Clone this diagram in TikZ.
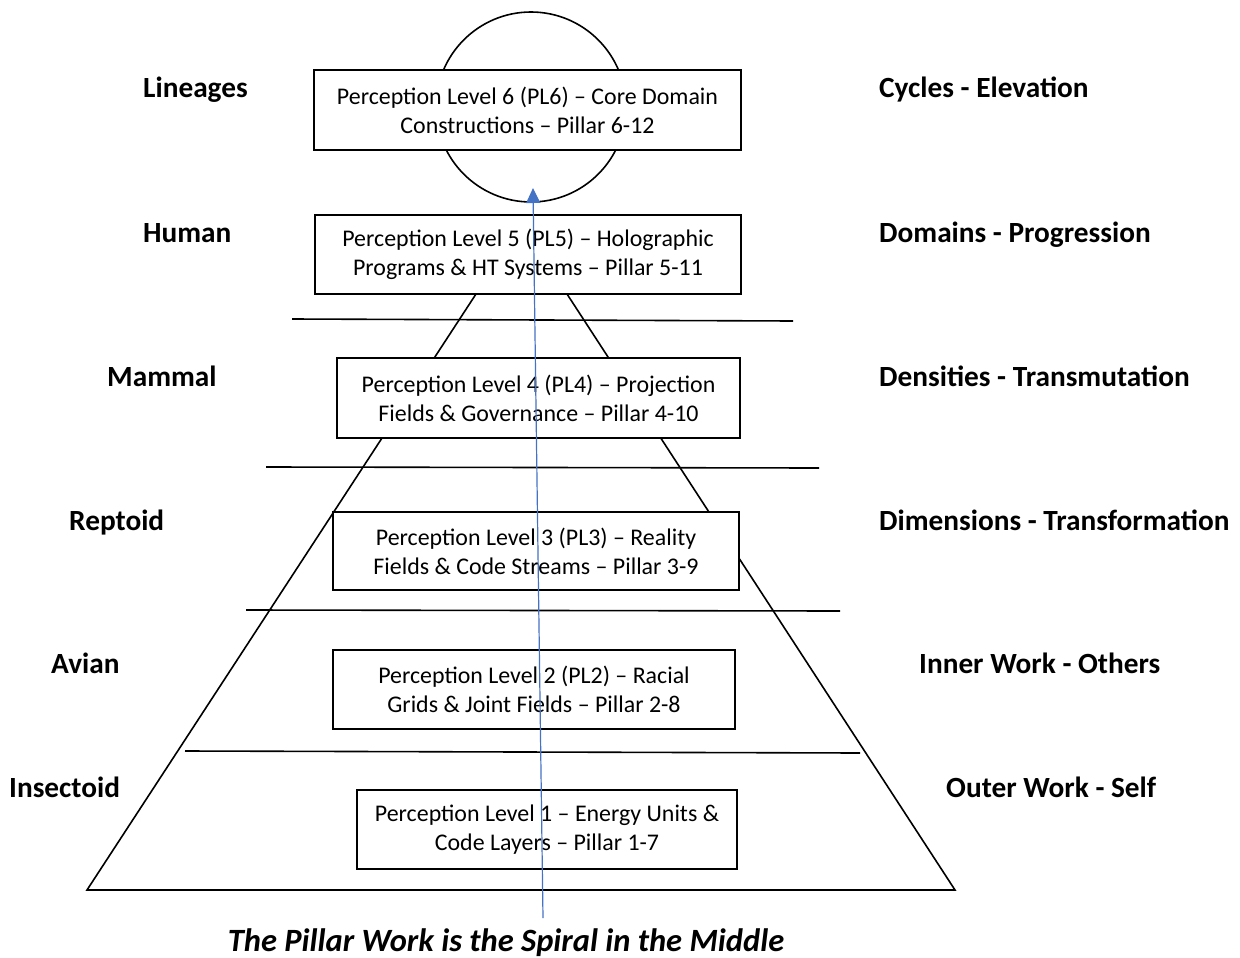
\documentclass[tikz,border=0pt]{standalone}
\usepackage{fontspec}
\setmainfont{Carlito}
\usetikzlibrary{arrows.meta, positioning}
\definecolor{spiralblue}{HTML}{4472C4}

\begin{document}
\begin{tikzpicture}[x=1pt,y=-1pt]
\tikzstyle{every node}=[inner sep=0pt]
\tikzstyle{level}=[draw, line width=1.6pt, fill=white, align=center, font=\fontsize{23.9}{29.2}\selectfont]
\tikzstyle{race}=[anchor=base west, font=\fontsize{29.3}{35}\selectfont\bfseries]
\tikzstyle{divider}=[line width=1.6pt]
\tikzstyle{spiral}=[draw=spiralblue, line width=1.2pt, -{Triangle[width=14pt,length=15pt]}]

\useasboundingbox (0,0) rectangle (1240,958);

% core circle behind the top level
\node[draw, circle, line width=1.6pt, minimum size=190pt] (core) at (531,107) {};

% pyramid
\coordinate (apexL) at (476,294);
\coordinate (apexR) at (567,294);
\coordinate (baseL) at (87,890);
\coordinate (baseR) at (955,890);
\draw[divider] (apexL) -- (baseL) -- (baseR) -- (apexR);

\draw[divider] (292,319) -- (793,321);
\draw[divider] (266,467) -- (819,468);
\draw[divider] (246,610) -- (840,611);
\draw[divider] (185,751) -- (860,753);

% perception levels
\node[level, minimum width=427pt, minimum height=80pt] (pl6) at (527.5,110)
  {Perception Level 6 (PL6) – Core Domain\\Constructions – Pillar 6-12};
\node[level, minimum width=426pt, minimum height=79pt] (pl5) at (528,254.5)
  {Perception Level 5 (PL5) – Holographic\\Programs \& HT Systems – Pillar 5-11};
\node[level, minimum width=403pt, minimum height=80pt] (pl4) at (538.5,398)
  {Perception Level 4 (PL4) – Projection\\Fields \& Governance – Pillar 4-10};
\node[level, minimum width=406pt, minimum height=78pt] (pl3) at (536,551)
  {Perception Level 3 (PL3) – Reality\\Fields \& Code Streams – Pillar 3-9};
\node[level, minimum width=402pt, minimum height=79pt] (pl2) at (534,689.5)
  {Perception Level 2 (PL2) – Racial\\Grids \& Joint Fields – Pillar 2-8};
\node[level, minimum width=380pt, minimum height=79pt] (pl1) at (547,829.5)
  {Perception Level 1 – Energy Units \&\\Code Layers – Pillar 1-7};

% left side
\node[race] (lineages) at (143,98) {Lineages};
\node[race] (human) at (143,242) {Human};
\node[race] (mammal) at (107,386) {Mammal};
\node[race] (reptoid) at (69,530) {Reptoid};
\node[race] (avian) at (51,673) {Avian};
\node[race] (insectoid) at (9,797) {Insectoid};

% right side
\node[race] (cycles) at (879,98) {Cycles - Elevation};
\node[race] (domains) at (879,242) {Domains - Progression};
\node[race] (densities) at (879,386) {Densities - Transmutation};
\node[race] (dimensions) at (879,530) {Dimensions - Transformation};
\node[race] (inner) at (919,673) {Inner Work - Others};
\node[race] (outer) at (946,797) {Outer Work - Self};

% the spiral
\coordinate (spiralfoot) at (543,918);
\coordinate (spiraltip) at (533,188);
\draw[spiral] (spiralfoot) -- (spiraltip);

\node[anchor=base, font=\fontsize{32.5}{38}\selectfont\bfseries\itshape] (caption) at (506,951)
  {The Pillar Work is the Spiral in the Middle};
\end{tikzpicture}
\end{document}
